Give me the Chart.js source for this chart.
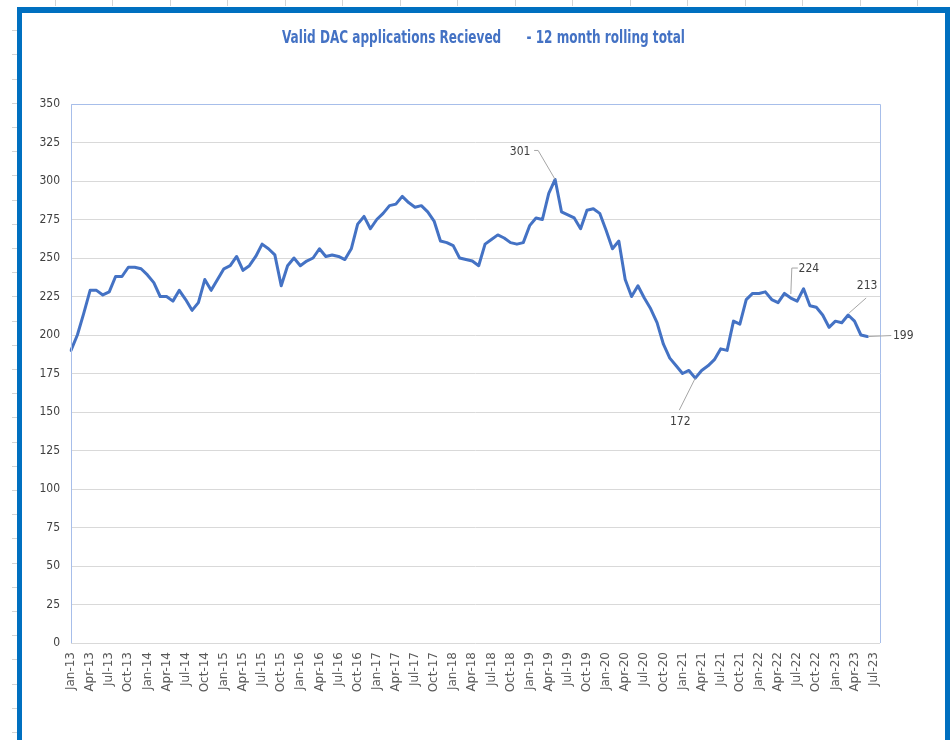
<!DOCTYPE html>
<html>
<head>
<meta charset="utf-8">
<script src="https://cdn.jsdelivr.net/npm/chart.js@4/dist/chart.umd.min.js"></script>
<style>
  html, body { margin: 0; padding: 0; background: #ffffff; }
  #c { display: block; }
</style>
</head>
<body>
<canvas id="c" width="950" height="740"></canvas>
<script>
// ---- data ----
const months = ['Jan','Feb','Mar','Apr','May','Jun','Jul','Aug','Sep','Oct','Nov','Dec'];
const years = ['13','14','15','16','17','18','19','20','21','22','23'];
const lastCategory = 'Aug-23';

const values2013 = [190, 200, 214, 229, 229, 226, 228, 238, 238, 244, 244, 243];
const values2014 = [239, 234, 225, 225, 222, 229, 223, 216, 221, 236, 229, 236];
const values2015 = [243, 245, 251, 242, 245, 251, 259, 256, 252, 232, 245, 250];
const values2016 = [245, 248, 250, 256, 251, 252, 251, 249, 256, 272, 277, 269];
const values2017 = [275, 279, 284, 285, 290, 286, 283, 284, 280, 274, 261, 260];
const values2018 = [258, 250, 249, 248, 245, 259, 262, 265, 263, 260, 259, 260];
const values2019 = [271, 276, 275, 292, 301, 280, 278, 276, 269, 281, 282, 279];
const values2020 = [268, 256, 261, 236, 225, 232, 224, 217, 208, 194, 185, 180];
const values2021 = [175, 177, 172, 177, 180, 184, 191, 190, 209, 207, 223, 227];
const values2022 = [227, 228, 223, 221, 227, 224, 222, 230, 219, 218, 213, 205];
const values2023 = [209, 208, 213, 209, 200, 199];

const yTicks = [0, 25, 50, 75, 100, 125, 150, 175, 200, 225, 250, 275, 300, 325, 350];

// annotated points: category label and printed value
const annotations = [
  { cat: 'May-19', text: '301' },
  { cat: 'Mar-21', text: '172' },
  { cat: 'Jun-22', text: '224' },
  { cat: 'Mar-23', text: '213' },
  { cat: 'Jun-23', text: '199' }
];

const titleText = 'Valid DAC applications Recieved      - 12 month rolling total';

// ---- build library structures ----
const categories = [];
years.forEach(y => months.forEach(m => { categories.push(m + '-' + y); }));
while (categories.length && categories[categories.length - 1] !== lastCategory) categories.pop();

const values = [].concat(values2013, values2014, values2015, values2016, values2017,
  values2018, values2019, values2020, values2021, values2022, values2023);
const seriesData = categories.map((c, i) => (i < values.length ? values[i] : null));

// ---- styling (not data) ----
const labelStyle = {
  'May-19': { lx: -35, ly: -28, path: [[-21, -29], [-17, -29], [0, 0]] },
  'Mar-21': { lx: -15, ly: 44, path: [[-16, 32], [0, 0]] },
  'Jun-22': { lx: 18, ly: -29, path: [[7, -30], [1, -30], [0, -4]] },
  'Mar-23': { lx: 19, ly: -29, path: [[18, -17], [1, -2]] },
  'Jun-23': { lx: 36, ly: -1, path: [[1, 0], [24, -1]] }
};
const narrow = '"Liberation Sans Narrow", "DejaVu Sans Condensed", "Liberation Sans", sans-serif';

const decorPlugin = {
  id: 'decor',
  beforeDraw(chart) {
    const c = chart.ctx;
    c.save();
    c.fillStyle = '#ffffff';
    c.fillRect(0, 0, chart.width, chart.height);
    // faint spreadsheet cell lines outside the frame
    c.strokeStyle = '#d4d4d4';
    c.lineWidth = 1;
    for (let k = 0; k < 16; k++) {
      const x = Math.round(54.5 + 57.5 * k) + 0.5;
      c.beginPath(); c.moveTo(x, 0); c.lineTo(x, 6); c.stroke();
    }
    for (let y = 732; y > 14; y -= 24.2) {
      const yy = Math.round(y) + 0.5;
      c.beginPath(); c.moveTo(12, yy); c.lineTo(17, yy); c.stroke();
    }
    // blue frame
    c.fillStyle = '#0070C0';
    c.fillRect(17, 7, 5, 733);
    c.fillRect(17, 7, 933, 6);
    c.fillRect(945, 7, 5, 733);
    // title
    c.font = 'bold 17px ' + narrow;
    c.fillStyle = '#4472C4';
    c.textAlign = 'center';
    c.textBaseline = 'middle';
    const w = c.measureText(titleText).width;
    const target = 403;
    c.translate(483.5, 38.5);
    c.scale(target / w, 1);
    c.fillText(titleText, 0, 0);
    c.restore();
  },
  afterDraw(chart) {
    const c = chart.ctx;
    const a = chart.chartArea;
    c.save();
    // plot area border (top, left, right)
    c.strokeStyle = '#A7BEEA';
    c.lineWidth = 1;
    c.beginPath();
    c.moveTo(Math.round(a.left) + 0.5, Math.round(a.bottom));
    c.lineTo(Math.round(a.left) + 0.5, Math.round(a.top) + 0.5);
    c.lineTo(Math.round(a.right) + 0.5, Math.round(a.top) + 0.5);
    c.lineTo(Math.round(a.right) + 0.5, Math.round(a.bottom));
    c.stroke();
    // data labels with leader lines
    const xs = chart.scales.x, ys = chart.scales.y;
    c.font = '12px ' + narrow;
    c.fillStyle = '#404040';
    c.textAlign = 'center';
    c.textBaseline = 'middle';
    annotations.forEach(an => {
      const i = categories.indexOf(an.cat);
      const px = xs.getPixelForValue(i);
      const py = ys.getPixelForValue(seriesData[i]);
      const st = labelStyle[an.cat];
      c.strokeStyle = '#A6A6A6';
      c.lineWidth = 1;
      c.beginPath();
      st.path.forEach((p, k) => {
        if (k === 0) c.moveTo(px + p[0], py + p[1]); else c.lineTo(px + p[0], py + p[1]);
      });
      c.stroke();
      c.fillText(an.text, px + st.lx, py + st.ly);
    });
    c.restore();
  }
};

new Chart(document.getElementById('c'), {
  type: 'line',
  data: {
    labels: categories,
    datasets: [{
      data: seriesData,
      borderColor: '#4472C4',
      borderWidth: 3,
      pointRadius: 0,
      pointHoverRadius: 0,
      tension: 0,
      fill: false,
      borderJoinStyle: 'round',
      borderCapStyle: 'round'
    }]
  },
  options: {
    responsive: false,
    animation: false,
    devicePixelRatio: 1,
    events: [],
    layout: { padding: { left: 0, right: 70, top: 104, bottom: 0 } },
    plugins: { legend: { display: false }, tooltip: { enabled: false }, title: { display: false } },
    scales: {
      x: {
        type: 'category',
        offset: false,
        grid: { display: false, drawTicks: false },
        border: { display: false },
        ticks: {
          autoSkip: false,
          maxRotation: 90,
          minRotation: 90,
          padding: 9,
          color: '#595959',
          font: { family: '"DejaVu Sans", Verdana, sans-serif', size: 12 },
          callback: (v, i) => (i % 3 === 0 ? categories[i] : '')
        },
        afterFit: s => { s.height = 97; }
      },
      y: {
        min: 0,
        max: 350,
        afterBuildTicks: s => { s.ticks = yTicks.map(v => ({ value: v })); },
        grid: { color: '#D9D9D9', lineWidth: 1, drawTicks: false },
        border: { display: false },
        ticks: {
          padding: 11,
          color: '#404040',
          font: { family: narrow, size: 12 }
        },
        afterFit: s => { s.width = 71; }
      }
    }
  },
  plugins: [decorPlugin]
});
</script>
</body>
</html>
